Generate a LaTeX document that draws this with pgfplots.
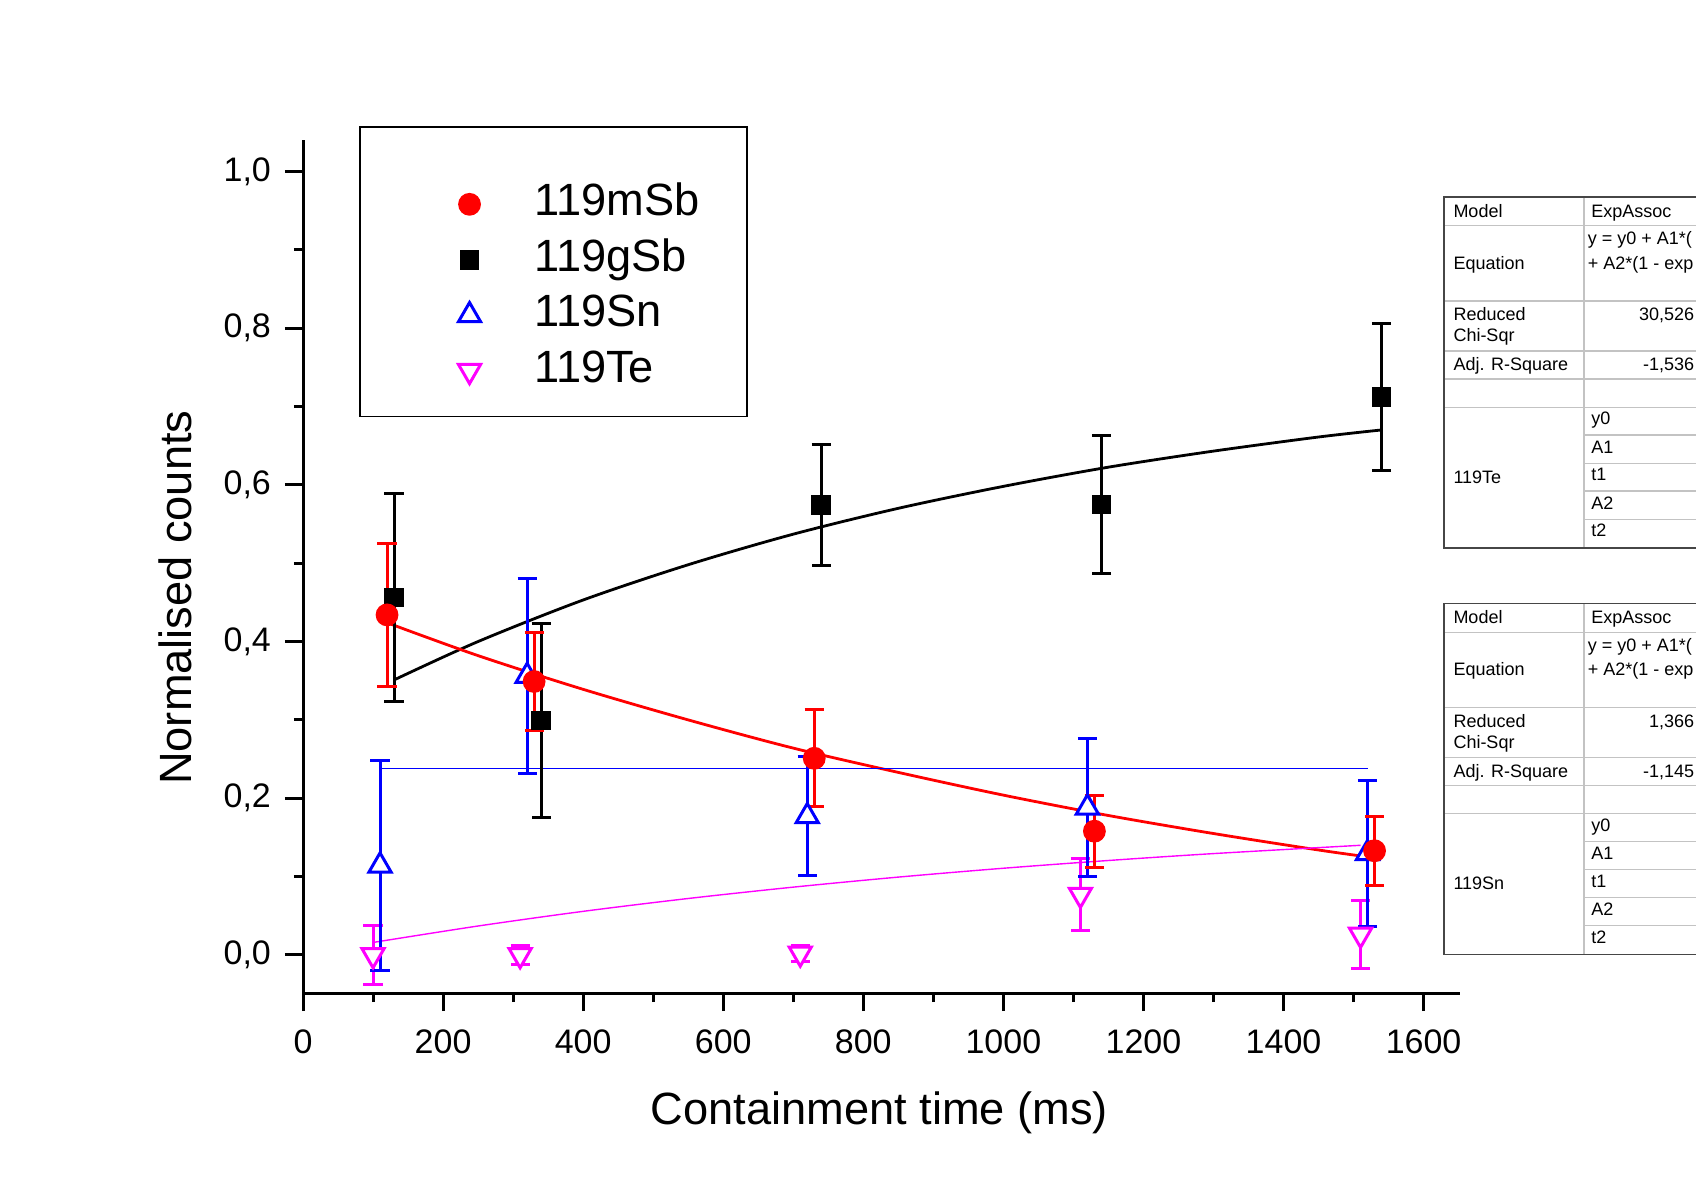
\documentclass[border=0pt]{standalone}
\usepackage{pgfplots}
\pgfplotsset{compat=1.18}
\usepackage{fontspec}
\setmainfont{Liberation Sans}
\definecolor{tblline}{RGB}{195,195,195}
\definecolor{tblborder}{RGB}{70,70,70}
\definecolor{mag}{RGB}{255,0,255}
\definecolor{red}{RGB}{255,0,0}
\definecolor{blue}{RGB}{0,0,255}
\newcommand\tfont{\fontsize{4.5}{5.4}\selectfont}
\begin{document}
\begin{tikzpicture}
\useasboundingbox (0,0) rectangle (424pt,298pt);
\clip (0,0) rectangle (424pt,298pt);
\begin{axis}[
  at={(75.75pt,49.75pt)}, anchor=south west,
  scale only axis, width=289.25pt, height=213.25pt,
  xmin=0, xmax=1652, ymin=-0.0485, ymax=1.04,
  axis x line=bottom, axis y line=left,
  axis line style={-, line width=0.75pt},
  xtick={0,200,...,1600}, ytick={0,0.2,0.4,0.6,0.8,1.0},
  minor x tick num=1, minor y tick num=1,
  tick align=outside, major tick length=4.5pt, minor tick length=2.25pt,
  every tick/.style={black, line width=0.75pt},
  /pgf/number format/assume math mode=true,
  ticklabel style={font=\fontsize{8.5}{10}\selectfont},
  xticklabel style={/pgf/number format/1000 sep={}, yshift=-1.1pt},
  yticklabel style={/pgf/number format/.cd, use comma, fixed, fixed zerofill, precision=1},
  label style={font=\fontsize{11.3}{13.5}\selectfont},
  xlabel={Containment time (ms)}, ylabel={Normalised counts},
  xlabel style={at={(axis description cs:0.4982,-0.1405)}, anchor=center},
  ylabel style={at={(axis description cs:-0.1106,0.4635)}, anchor=center},
  legend image code/.code={\path (-8pt,0pt) (8pt,0pt); \draw[#1] plot coordinates {(0pt,0pt)};},
  reverse legend, legend cell align=left,
  legend style={draw=none, fill=none, at={(axis description cs:0.1149,0.8270)}, anchor=west,
    inner sep=0pt, row sep=3.275pt, column sep=8.0pt,
    font=\fontsize{11.3}{13.5}\selectfont,
    nodes={inner sep=0pt, text height=8.2pt, text depth=2.4pt}},
]
% fitted curves
\addplot[black, line width=0.7pt, smooth, forget plot] coordinates {
 (130,0.351)(250,0.400)(400,0.453)(550,0.498)(700,0.537)(850,0.570)
 (1000,0.598)(1150,0.6225)(1300,0.643)(1450,0.661)(1540,0.670)};
\addplot[red, line width=0.7pt, smooth, forget plot] coordinates {
 (120,0.424)(250,0.382)(400,0.339)(550,0.300)(700,0.264)(850,0.233)
 (1000,0.204)(1150,0.178)(1300,0.155)(1450,0.134)(1530,0.124)};
\addplot[blue, line width=0.35pt, forget plot] coordinates {(110,0.238)(1520,0.238)};
\addplot[mag, line width=0.35pt, smooth, forget plot] coordinates {
 (100,0.016)(250,0.037)(400,0.0557)(550,0.0721)(700,0.0866)(850,0.0994)
 (1000,0.1107)(1150,0.1206)(1300,0.1294)(1510,0.140)};
% data
\addplot[mag, only marks, mark=triangle*, mark size=3.2pt,
  mark options={rotate=180, fill=white, draw=mag, line width=0.75pt},
  error bars/y dir=both, error bars/y explicit,
  error bars/error bar style={line width=0.75pt},
  error bars/error mark options={rotate=90, mark size=2.4pt, line width=0.75pt}]
 coordinates {(100,0.0) +- (0,0.038) (310,0.0) +- (0,0.012) (710,0.002) +- (0,0.010)
   (1110,0.077) +- (0,0.046) (1510,0.026) +- (0,0.043)};
\addlegendentry{119Te}
\addplot[blue, only marks, mark=triangle*, mark size=3.2pt,
  mark options={fill=white, draw=blue, line width=0.75pt},
  error bars/y dir=both, error bars/y explicit,
  error bars/error bar style={line width=0.75pt},
  error bars/error mark options={rotate=90, mark size=2.4pt, line width=0.75pt}]
 coordinates {(110,0.114) +- (0,0.134) (320,0.356) +- (0,0.124) (720,0.177) +- (0,0.076)
   (1120,0.188) +- (0,0.088) (1520,0.130) +- (0,0.093)};
\addlegendentry{119Sn}
\addplot[black, only marks, mark=square*, mark size=2.25pt,
  error bars/y dir=both, error bars/y explicit,
  error bars/error bar style={line width=0.75pt},
  error bars/error mark options={rotate=90, mark size=2.4pt, line width=0.75pt}]
 coordinates {(130,0.456) +- (0,0.133) (340,0.299) +- (0,0.124) (740,0.574) +- (0,0.077)
   (1140,0.575) +- (0,0.088) (1540,0.712) +- (0,0.094)};
\addlegendentry{119gSb}
\addplot[red, only marks, mark=*, mark size=2.65pt,
  error bars/y dir=both, error bars/y explicit,
  error bars/error bar style={line width=0.75pt},
  error bars/error mark options={rotate=90, mark size=2.4pt, line width=0.75pt}]
 coordinates {(120,0.434) +- (0,0.091) (330,0.349) +- (0,0.062) (730,0.251) +- (0,0.062)
   (1130,0.158) +- (0,0.046) (1530,0.133) +- (0,0.044)};
\addlegendentry{119mSb}
\end{axis}
\begin{scope}[x=0.25pt, y=-0.25pt, shift={(0,298pt)}]
% legend frame
\draw[black, line width=0.4pt] (360,127) rectangle (746.7,416.7);
% fit tables
\foreach \dy/\chi/\adj/\nm in {0/{30,526}/{-1,536}/119Te, 406.5/{1,366}/{-1,145}/119Sn}{
  \draw[tblline, line width=0.3pt] (1444,{225.7+\dy}) -- (1760,{225.7+\dy})
     (1444,{301+\dy}) -- (1760,{301+\dy})
     (1444,{351+\dy}) -- (1760,{351+\dy})
     (1444,{379+\dy}) -- (1760,{379+\dy})
     (1444,{407.3+\dy}) -- (1760,{407.3+\dy})
     (1584,{435+\dy}) -- (1760,{435+\dy})
     (1584,{463.3+\dy}) -- (1760,{463.3+\dy})
     (1584,{491+\dy}) -- (1760,{491+\dy})
     (1584,{519.3+\dy}) -- (1760,{519.3+\dy})
     (1584,{197+\dy}) -- (1584,{548+\dy});
  \draw[tblborder, line width=0.35pt] (1444,{197+\dy}) rectangle (1760,{548+\dy});
  \begin{scope}[every node/.style={inner sep=0pt, font=\tfont}]
  \node[anchor=base west] at (1452.7,{217.3+\dy}) {Model};
  \node[anchor=base west] at (1590.5,{217.3+\dy}) {ExpAssoc};
  \node[anchor=base west] at (1452.7,{269.3+\dy}) {Equation};
  \node[anchor=base west] at (1587,{244.7+\dy}) {y = y0 + A1*(};
  \node[anchor=base west] at (1587,{269.4+\dy}) {+ A2*(1 - exp};
  \node[anchor=base west] at (1452.7,{320.7+\dy}) {Reduced};
  \node[anchor=base west] at (1452.7,{341.7+\dy}) {Chi-Sqr};
  \node[anchor=base east] at (1695,{320.7+\dy}) {\chi};
  \node[anchor=base west] at (1452.7,{370.7+\dy}) {Adj. R-Square};
  \node[anchor=base east] at (1695,{370.7+\dy}) {\adj};
  \node[anchor=base west] at (1452.7,{483.3+\dy}) {\nm};
  \node[anchor=base west] at (1590.5,{425+\dy}) {y0};
  \node[anchor=base west] at (1590.5,{453.3+\dy}) {A1};
  \node[anchor=base west] at (1590.5,{480.7+\dy}) {t1};
  \node[anchor=base west] at (1590.5,{509+\dy}) {A2};
  \node[anchor=base west] at (1590.5,{536.7+\dy}) {t2};
  \end{scope}
}
\end{scope}
\end{tikzpicture}
\end{document}
